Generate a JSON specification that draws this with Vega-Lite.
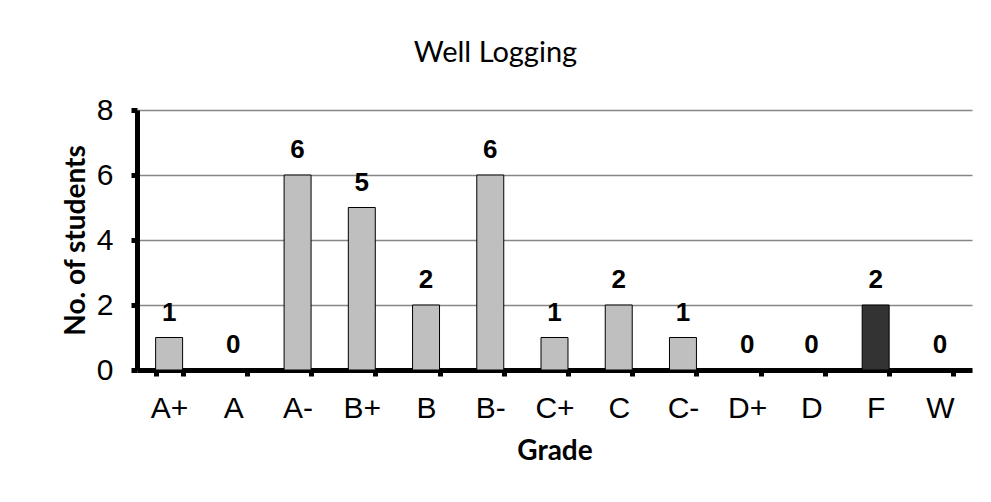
{
  "$schema": "https://vega.github.io/schema/vega-lite/v6.json",
  "width": 835,
  "height": 260,
  "autosize": {"type": "none"},
  "padding": {"left": 137, "top": 110, "right": 19, "bottom": 132},
  "background": "white",
  "title": {
    "text": "Well Logging",
    "font": "Lato",
    "fontSize": 29,
    "fontWeight": "normal",
    "color": "black",
    "anchor": "middle",
    "dx": -59,
    "offset": 27
  },
  "data": {
    "values": [
      {"grade": "A+", "n": 1, "kind": "pass"},
      {"grade": "A", "n": 0, "kind": "pass"},
      {"grade": "A-", "n": 6, "kind": "pass"},
      {"grade": "B+", "n": 5, "kind": "pass"},
      {"grade": "B", "n": 2, "kind": "pass"},
      {"grade": "B-", "n": 6, "kind": "pass"},
      {"grade": "C+", "n": 1, "kind": "pass"},
      {"grade": "C", "n": 2, "kind": "pass"},
      {"grade": "C-", "n": 1, "kind": "pass"},
      {"grade": "D+", "n": 0, "kind": "pass"},
      {"grade": "D", "n": 0, "kind": "pass"},
      {"grade": "F", "n": 2, "kind": "fail"},
      {"grade": "W", "n": 0, "kind": "pass"}
    ]
  },
  "encoding": {
    "x": {
      "field": "grade",
      "type": "nominal",
      "sort": null,
      "scale": {"paddingInner": 0.58, "paddingOuter": 0.29},
      "axis": {
        "title": "Grade",
        "titleFont": "Lato",
        "titleFontSize": 28,
        "titleFontWeight": "bold",
        "titleColor": "black",
        "titlePadding": 14,
        "labelAngle": 0,
        "labelFont": "Liberation Sans",
        "labelFontSize": 30,
        "labelColor": "black",
        "labelPadding": 17,
        "domainColor": "black",
        "domainWidth": 5,
        "tickColor": "black",
        "tickWidth": 5,
        "tickSize": 6,
        "tickBand": "extent",
        "grid": false
      }
    },
    "y": {
      "field": "n",
      "type": "quantitative",
      "scale": {"domain": [0, 8]},
      "axis": {
        "title": "No. of students",
        "titleFont": "Lato",
        "titleFontSize": 28,
        "titleFontWeight": "bold",
        "titleColor": "black",
        "titlePadding": 6,
        "values": [0, 2, 4, 6, 8],
        "labelFont": "Liberation Sans",
        "labelFontSize": 30,
        "labelColor": "black",
        "labelPadding": 18,
        "domainColor": "black",
        "domainWidth": 5,
        "tickColor": "black",
        "tickWidth": 5,
        "tickSize": 6,
        "grid": true,
        "gridColor": "#868686",
        "gridWidth": 1.5
      }
    }
  },
  "layer": [
    {
      "mark": {"type": "bar", "stroke": "black", "strokeWidth": 1},
      "encoding": {
        "color": {
          "field": "kind",
          "type": "nominal",
          "scale": {"domain": ["pass", "fail"], "range": ["#bfbfbf", "#333333"]},
          "legend": null
        }
      }
    },
    {
      "mark": {"type": "text", "baseline": "alphabetic", "dy": -17, "font": "Liberation Sans", "fontSize": 26, "fontWeight": "bold", "color": "black"},
      "encoding": {"text": {"field": "n", "type": "quantitative"}}
    }
  ],
  "config": {"view": {"stroke": null}}
}
